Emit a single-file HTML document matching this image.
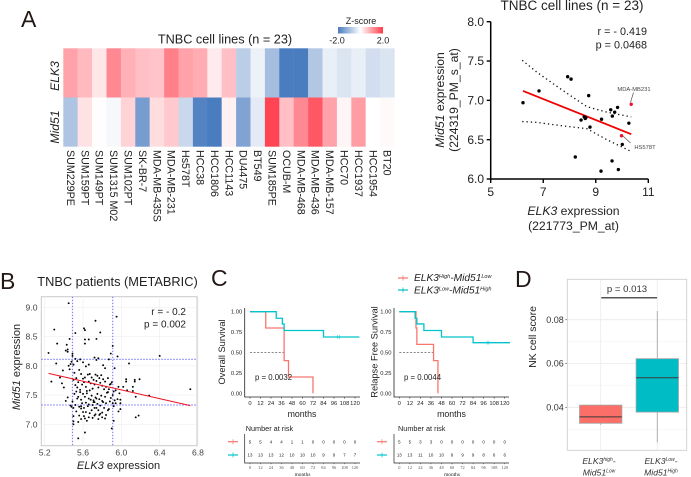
<!DOCTYPE html>
<html lang="en">
<head>
<meta charset="utf-8">
<title>ELK3 and Mid51 figure</title>
<style>
html,body{margin:0;padding:0;background:#fff;width:691px;height:477px;overflow:hidden}
svg{display:block;font-family:"Liberation Sans",sans-serif;filter:blur(0.3px)}
text{fill:#222}
.it{font-style:italic}
.letter{font-size:23px;fill:#231815}
</style>
</head>
<body>
<svg id="fig" width="691" height="477" viewBox="0 0 691 477" xmlns="http://www.w3.org/2000/svg">
  <text class="letter" x="21" y="27">A</text>
  <text class="letter" x="0" y="289">B</text>
  <text class="letter" x="211" y="286">C</text>
  <text class="letter" x="515" y="287">D</text>

  <!-- Heatmap -->
  <g id="heatmap"></g>
  <text x="225" y="43.500" font-size="12.700" text-anchor="middle">TNBC cell lines (n = 23)</text>
  <text class="it" transform="translate(59,76) rotate(-90)" font-size="12.2" text-anchor="middle">ELK3</text>
  <text class="it" transform="translate(59,127) rotate(-90)" font-size="12.2" text-anchor="middle">Mid51</text>
  <defs>
    <linearGradient id="zgrad" x1="0" x2="1" y1="0" y2="0">
      <stop offset="0" stop-color="#4a7cc0"/>
      <stop offset="0.5" stop-color="#ffffff"/>
      <stop offset="1" stop-color="#ff3b4a"/>
    </linearGradient>
  </defs>
  <text x="361" y="24" font-size="9" text-anchor="middle">Z-score</text>
  <rect x="338" y="27" width="45" height="6.5" fill="url(#zgrad)"/>
  <text x="337" y="43.500" font-size="9" text-anchor="middle">-2.0</text>
  <text x="383" y="43.500" font-size="9" text-anchor="middle">2.0</text>

  <!-- Scatter A -->
  <text x="572" y="10" font-size="13.500" text-anchor="middle">TNBC cell lines (n = 23)</text>
  <g id="scatterA"></g>
  <text x="647" y="35" font-size="10.800" text-anchor="end">r = - 0.419</text>
  <text x="647" y="48.500" font-size="10.800" text-anchor="end">p = 0.0468</text>
  <text x="634" y="91" font-size="5.800" text-anchor="middle" style="fill:#444">MDA-MB231</text>
  <text x="645" y="149" font-size="5.800" text-anchor="middle" style="fill:#444">HS578T</text>
  <line x1="633.500" y1="92.500" x2="630.500" y2="102.500" stroke="#555" stroke-width="0.700"/>
  <line x1="630.500" y1="143" x2="623" y2="136" stroke="#555" stroke-width="0.700"/>
  <text transform="translate(444,100) rotate(-90)" font-size="12.200" text-anchor="middle"><tspan class="it">Mid51</tspan> expression</text>
  <text transform="translate(458,100) rotate(-90)" font-size="12.200" text-anchor="middle">(224319_PM_s_at)</text>
  <text x="573.500" y="215" font-size="12.200" text-anchor="middle"><tspan class="it">ELK3</tspan> expression</text>
  <text x="573.500" y="230" font-size="12.200" text-anchor="middle">(221773_PM_at)</text>

  <!-- Scatter B -->
  <text x="117.500" y="286" font-size="12.800" text-anchor="middle">TNBC patients (METABRIC)</text>
  <g id="scatterB"></g>
  <text x="186" y="315" font-size="10" text-anchor="end">r = - 0.2</text>
  <text x="186" y="327.500" font-size="10" text-anchor="end">p = 0.002</text>
  <text transform="translate(20,367) rotate(-90)" font-size="11" text-anchor="middle"><tspan class="it">Mid51</tspan> expression</text>
  <text x="118.500" y="469" font-size="11" text-anchor="middle"><tspan class="it">ELK3</tspan> expression</text>

  <!-- KM legend -->
  <g>
    <line x1="398" x2="408" y1="278" y2="278" stroke="#f8766d" stroke-width="1.200"/>
    <line x1="403" x2="403" y1="275.500" y2="280.500" stroke="#f8766d" stroke-width="0.800"/>
    <line x1="398" x2="408" y1="290" y2="290" stroke="#00bfc4" stroke-width="1.200"/>
    <line x1="403" x2="403" y1="287.500" y2="292.500" stroke="#00bfc4" stroke-width="0.800"/>
    <text class="it" x="414" y="281" font-size="10.200">ELK3<tspan font-size="5.500" dy="-3">High</tspan><tspan dy="3">-Mid51</tspan><tspan font-size="5.500" dy="-3">Low</tspan></text>
    <text class="it" x="414" y="293.500" font-size="10.200">ELK3<tspan font-size="5.500" dy="-3">Low</tspan><tspan dy="3">-Mid51</tspan><tspan font-size="5.500" dy="-3">High</tspan></text>
  </g>
  <g id="kmLeft"></g>
  <g id="kmRight"></g>

  <!-- Box plot -->
  <g id="boxplot"></g>
  <text transform="translate(536,337) rotate(-90)" font-size="10.500" text-anchor="middle">NK cell score</text>
  <text x="627" y="292" font-size="9.600" text-anchor="middle" style="fill:#333">p = 0.013</text>
  <text class="it" x="599" y="464" font-size="8.600" text-anchor="middle" style="fill:#333">ELK3<tspan font-size="5" dy="-3">high</tspan><tspan dy="3">-</tspan></text>
  <text class="it" x="599" y="475.500" font-size="8.600" text-anchor="middle" style="fill:#333">Mid51<tspan font-size="5" dy="-3">Low</tspan></text>
  <text class="it" x="661" y="464" font-size="8.600" text-anchor="middle" style="fill:#333">ELK3<tspan font-size="5" dy="-3">Low</tspan><tspan dy="3">-</tspan></text>
  <text class="it" x="661" y="475.500" font-size="8.600" text-anchor="middle" style="fill:#333">Mid51<tspan font-size="5" dy="-3">High</tspan></text>
</svg>

<script>
// ---------- Heatmap data ----------
const cellLines = ["SUM229PE","SUM159PT","SUM149PT","SUM1315 M02","SUM102PT","SK-BR-7","MDA-MB-435S","MDA-MB-231","Hs578T","HCC38","HCC1806","HCC1143","DU4475","BT549","SUM185PE","OCUB-M","MDA-MB-468","MDA-MB-436","MDA-MB-157","HCC70","HCC1937","HCC1954","BT20"];
const elk3Z = [0.95,0.7,0.25,1.2,0.8,0.65,0.6,1.3,0.95,0.85,0.2,0.65,-0.75,-0.2,-1.0,-2,-2,-0.85,-0.25,-0.4,-0.25,-0.5,-0.4];
const mid51Z = [-0.9,0.3,0.02,-0.1,0.45,-1.5,0.35,0.55,-0.6,-1.9,-2,0.15,-1.4,-0.3,1.9,0.65,1.2,1.7,0.95,0.1,1.0,0,0.05];

// ---------- Cell line scatter data ----------
const lineElk3 = [6.23,6.84,7.93,8.06,8.73,9.57,9.83,9.72,9.63,10.26,9.22,8.44,8.56,8.62,8.60,8.78,10.01,8.22,9.62,9.86,9.20];
const lineMid51 = [6.97,7.12,7.30,7.27,7.06,6.88,6.91,6.85,6.80,6.71,6.76,6.75,6.79,6.78,6.77,6.66,6.44,6.28,6.23,6.12,6.10];
const highlightElk3 = [10.35,9.98];
const highlightMid51 = [6.95,6.55];
const lineFitX = [6.23,10.35];
const lineFitY = [7.12,6.57];
const ciX = [6.2,6.75,7.64,8.66,9.42,10.35];
const ciUpper = [7.51,7.36,7.15,6.92,6.85,6.79];
const ciLower = [6.73,6.72,6.68,6.64,6.50,6.35];
const lineXTicks = [5,7,9,11];
const lineYTicks = [6.0,6.5,7.0,7.5,8.0];

// ---------- Patient scatter data ----------
const patientElk3 = [5.45,5.30,5.24,5.33,5.95,5.73,5.61,5.62,5.52,5.78,5.46,5.62,5.66,5.74,5.62,5.43,5.44,5.42,5.44,5.49,
5.89,5.91,5.96,6.40,6.72,6.08,6.29,6.15,6.18,5.62,5.55,5.90,5.50,5.50,5.92,6.05,6.05,6.19,6.14,6.14,
6.12,6.12,6.15,6.02,6.06,5.98,5.97,5.99,5.99,5.99,5.91,5.32,5.27,5.36,5.38,5.40,5.39,5.42,5.45,5.47,
5.49,5.50,5.48,5.52,5.54,5.57,5.60,5.63,5.66,5.72,5.74,5.76,5.81,5.83,5.87,5.46,5.44,5.48,5.51,5.53,
5.56,5.58,5.60,5.62,5.65,5.67,5.69,5.71,5.73,5.75,5.77,5.79,5.81,5.83,5.86,5.88,5.90,5.93,5.50,5.52,
5.54,5.55,5.57,5.59,5.61,5.63,5.64,5.66,5.68,5.70,5.72,5.74,5.76,5.78,5.80,5.82,5.84,5.85,5.87,5.89,
5.92,5.94,5.96,5.51,5.53,5.55,5.57,5.58,5.60,5.62,5.64,5.66,5.67,5.69,5.71,5.73,5.75,5.77,5.79,5.81,
5.83,5.86,5.88,5.91,5.93,5.49,5.52,5.54,5.56,5.59,5.61,5.63,5.65,5.68,5.70,5.71,5.72,5.74,5.75,5.76,
5.78,5.80,5.82,5.84,5.87,5.89,5.92,5.94,5.97,5.53,5.56,5.58,5.61,5.63,5.66,5.69,5.72,5.74,5.77,5.80,
5.83,5.86,5.50,5.55,5.58,5.60,5.64,5.67,5.70,5.73,5.76,5.80,5.47,5.50,5.62,5.66,5.58,5.72,5.78,5.84];
const patientMid51 = [9.07,8.62,8.22,8.38,8.84,8.77,8.64,8.61,8.56,8.57,8.46,8.45,8.45,8.46,8.38,8.36,8.28,8.26,8.24,8.21,
8.21,8.34,8.16,8.17,7.60,8.04,7.49,7.12,7.15,6.86,6.76,6.93,7.05,7.00,7.06,7.77,7.73,7.77,7.76,7.73,
7.64,7.57,7.47,7.64,7.58,7.53,7.64,7.42,7.36,7.26,7.36,8.04,7.73,7.80,7.70,7.63,7.92,7.40,8.00,8.03,
8.17,8.02,8.07,8.12,8.08,8.11,8.06,7.99,8.02,8.14,8.10,8.13,8.01,7.96,8.11,7.94,7.46,7.30,7.88,7.79,
7.93,7.86,7.78,7.80,7.85,7.86,7.80,7.76,7.85,7.83,7.79,7.84,7.77,7.73,7.79,7.68,7.72,7.96,7.76,7.67,
7.63,7.72,7.59,7.68,7.72,7.64,7.57,7.73,7.70,7.61,7.68,7.74,7.63,7.71,7.66,7.60,7.64,7.54,7.60,7.69,
7.56,7.58,7.43,7.52,7.56,7.47,7.55,7.42,7.52,7.47,7.53,7.44,7.58,7.49,7.41,7.46,7.52,7.43,7.49,7.38,
7.47,7.55,7.39,7.50,7.41,7.39,7.33,7.44,7.30,7.36,7.28,7.37,7.31,7.42,7.33,7.38,7.28,7.44,7.35,7.24,
7.32,7.40,7.28,7.36,7.26,7.45,7.31,7.36,7.22,7.22,7.15,7.27,7.14,7.21,7.12,7.24,7.15,7.28,7.16,7.20,
7.10,7.24,7.14,7.04,7.09,7.21,7.06,7.19,7.11,7.17,7.09,7.12,7.32,7.28,7.10,7.34,7.31,7.38,7.18,7.16];
const patientFitX = [5.24,6.72];
const patientFitY = [7.87,7.32];
const patientCutX = [5.49,5.91];
const patientCutY = [7.33,8.11];
const patientXTicks = ["5.2","5.6","6.0","6.4","6.8"];
const patientYTicks = ["7.0","7.5","8.0","8.5","9.0"];

// ---------- Survival data ----------
const kmTicks = [0,12,24,36,48,60,72,84,96,108,120];
const kmYTicks = ["0.00","0.25","0.50","0.75","1.00"];
const osHighTime = [0,18,39,44,72];
const osHighSurv = [1,0.8,0.4,0.2,0];
const osLowTime = [0,30,37,39,84,125];
const osLowSurv = [1,0.92,0.85,0.77,0.69,0.69];
const osCensor = [100,102];
const osMedian = 39;
const osRiskHigh = [5,5,4,4,1,1,0,0,0,0,0];
const osRiskLow = [13,13,13,12,10,10,10,9,9,7,7];
const rfsHighTime = [0,19,20,39,44,44];
const rfsHighSurv = [1,0.8,0.6,0.4,0,0];
const rfsLowTime = [0,18,20,28,48,84,126];
const rfsLowSurv = [1,0.92,0.85,0.77,0.69,0.62,0.62];
const rfsCensor = [100,102];
const rfsMedian = 39;
const rfsRiskHigh = [5,5,3,3,0,0,0,0,0,0,0];
const rfsRiskLow = [13,13,11,10,10,9,9,9,8,6,6];

// ---------- Box plot data ----------
const boxGroups = ["high-low","low-high"];
const boxQ1 = [0.0327,0.0378];
const boxMedian = [0.0356,0.0535];
const boxQ3 = [0.0410,0.0622];
const boxWhiskerLow = [0.0320,0.0240];
const boxWhiskerHigh = [0.0410,0.0840];
const boxYTicks = ["0.04","0.06","0.08"];
const boxYMinor = [0.03,0.05,0.07];

// ---------- Rendering ----------
const NS = "http://www.w3.org/2000/svg";
function mk(parent, tag, attrs, txt){
  const e = document.createElementNS(NS, tag);
  for (const k in attrs) e.setAttribute(k, attrs[k]);
  if (txt !== undefined) e.textContent = txt;
  parent.appendChild(e);
  return e;
}
function linear(d0,d1,r0,r1){ return v => r0 + (v-d0)/(d1-d0)*(r1-r0); }
function mix(a,b,t){ return a.map((c,i)=>Math.round(c+(b[i]-c)*t)); }
function zColor(z){
  const w=[255,255,255], lo=[74,124,192], hi=[255,59,74];
  const c = z<0 ? mix(w,lo,Math.min(1,-z/2)) : mix(w,hi,Math.min(1,z/2));
  return "rgb("+c.join(",")+")";
}

// Heatmap
(function(){
  const g = document.getElementById("heatmap");
  const x0 = 63.3, cw = 14.4;
  const rowTop = [48.3, 97.5], rowH = 49.2;
  [elk3Z, mid51Z].forEach((row, r) => {
    row.forEach((z, i) => {
      const c = mk(g,"rect",{x:x0+i*cw,y:rowTop[r],width:cw+0.2,height:rowH,fill:zColor(z)});
      
      
    });
  });
  cellLines.forEach((n,i) => {
    const cx = x0+i*cw+cw/2-3.6;
    const t = mk(g,"text",{transform:"translate("+cx+",150) rotate(90)","font-size":10.7},n);
    
    
  });
})();

// Scatter A
(function(){
  const g = document.getElementById("scatterA");
  const X = linear(5,11,490.7,648.3), Y = linear(6,8,179,21.7);
  const ax = mk(g,"path",{d:"M"+X(5)+" "+Y(8)+"V"+Y(6)+"H"+X(11),fill:"none",stroke:"#000","stroke-width":1.5});
  
  
  lineXTicks.forEach(v => {
    const k = mk(g,"line",{x1:X(v),x2:X(v),y1:Y(6),y2:Y(6)+4,stroke:"#000","stroke-width":1.4});
    
    
    const t = mk(g,"text",{x:X(v),y:196,"font-size":12,"text-anchor":"middle"},v);
    
    
  });
  lineYTicks.forEach(v => {
    const k = mk(g,"line",{x1:X(5)-4,x2:X(5),y1:Y(v),y2:Y(v),stroke:"#000","stroke-width":1.4});
    
    
    const t = mk(g,"text",{x:484,y:Y(v)+4.2,"font-size":12,"text-anchor":"end"},v.toFixed(1));
    
    
  });
  [ciUpper,ciLower].forEach(arr => {
    const p = mk(g,"polyline",{points:ciX.map((x,i)=>X(x)+","+Y(arr[i])).join(" "),fill:"none",stroke:"#111","stroke-width":1.3,"stroke-dasharray":"1.3 3"});
    
    
  });
  const f = mk(g,"line",{x1:X(lineFitX[0]),y1:Y(lineFitY[0]),x2:X(lineFitX[1]),y2:Y(lineFitY[1]),stroke:"#f00000","stroke-width":1.8});
  
  
  lineElk3.forEach((x,i) => {
    const c = mk(g,"circle",{cx:X(x),cy:Y(lineMid51[i]),r:1.7,fill:"#000"});
    
    
  });
  highlightElk3.forEach((x,i) => {
    const c = mk(g,"circle",{cx:X(x),cy:Y(highlightMid51[i]),r:1.7,fill:"#f01030"});
    
    
  });
})();

// Scatter B
(function(){
  const g = document.getElementById("scatterB");
  const X = linear(5.2,6.8,44.7,198), Y = linear(7,9,424.3,307.3);
  const L=41.3,R=197,T=296.7,B=445.7;
  const bg = mk(g,"rect",{x:L,y:T,width:R-L,height:B-T,fill:"#fff",stroke:"#c9c9c9","stroke-width":1});
  
  
  patientXTicks.forEach(s => {
    const v = +s;
    const l = mk(g,"line",{x1:X(v),x2:X(v),y1:T,y2:B,stroke:"#efefef","stroke-width":0.7});
    
    
    const t = mk(g,"text",{x:X(v),y:455.5,"font-size":8.6,"text-anchor":"middle",style:"fill:#444"},s);
    
    
  });
  patientYTicks.forEach(s => {
    const v = +s;
    const l = mk(g,"line",{x1:L,x2:R,y1:Y(v),y2:Y(v),stroke:"#efefef","stroke-width":0.7});
    
    
    const t = mk(g,"text",{x:37.5,y:Y(v)+3,"font-size":8.6,"text-anchor":"end",style:"fill:#444"},s);
    
    
  });
  patientCutX.forEach(v => {
    const l = mk(g,"line",{x1:X(v),x2:X(v),y1:T,y2:B,stroke:"#8080ff","stroke-width":1.2,"stroke-dasharray":"1.4 1.6"});
    
    
  });
  patientCutY.forEach(v => {
    const l = mk(g,"line",{x1:L,x2:R,y1:Y(v),y2:Y(v),stroke:"#8080ff","stroke-width":1.2,"stroke-dasharray":"1.4 1.6"});
    
    
  });
  patientElk3.forEach((x,i) => {
    const c = mk(g,"circle",{cx:X(x),cy:Y(patientMid51[i]),r:0.95,fill:"#000"});
    
    
  });
  const f = mk(g,"line",{x1:X(patientFitX[0]),y1:Y(patientFitY[0]),x2:X(patientFitX[1]),y2:Y(patientFitY[1]),stroke:"#f01020","stroke-width":1});
  
  
})();

// Kaplan-Meier
function stepPath(X,Y,t,s){
  let d = "M"+X(t[0])+" "+Y(s[0]);
  for (let i=1;i<t.length;i++) d += "H"+X(t[i])+"V"+Y(s[i]);
  return d;
}
function drawKM(id, c){
  const g = document.getElementById(id);
  const X = linear(0,120,c.x0,c.x120), Y = linear(0,1,393.3,311.7);
  const ax = mk(g,"path",{d:"M"+c.axisX+" 308V397H"+c.axisEnd,fill:"none",stroke:"#222","stroke-width":0.8});
  
  
  kmTicks.forEach(v => {
    const k = mk(g,"line",{x1:X(v),x2:X(v),y1:397,y2:398.5,stroke:"#222","stroke-width":0.6});
    
    
    const t = mk(g,"text",{x:X(v),y:405,"font-size":5.8,"text-anchor":"middle"},v);
    
    
  });
  kmYTicks.forEach(s => {
    const v = +s;
    const t = mk(g,"text",{x:c.axisX-2.5,y:Y(v)+2,"font-size":5.8,"text-anchor":"end"},s);
    
    
  });
  const m = mk(g,"line",{x1:X(0),x2:X(c.median),y1:Y(0.5),y2:Y(0.5),stroke:"#111","stroke-width":0.6,"stroke-dasharray":"2 1.6"});
  
  
  const hi = mk(g,"path",{d:stepPath(X,Y,c.hiT,c.hiS),fill:"none",stroke:"#f8766d","stroke-width":1.3});
  
  
  const lo = mk(g,"path",{d:stepPath(X,Y,c.loT,c.loS),fill:"none",stroke:"#00c4cc","stroke-width":1.3});
  
  
  const endS = c.loS[c.loS.length-1];
  c.censor.forEach(v => {
    const k = mk(g,"line",{x1:X(v),x2:X(v),y1:Y(endS)-1.8,y2:Y(endS)+1.8,stroke:"#00c4cc","stroke-width":0.6});
    
    
  });
  const p = mk(g,"text",{x:c.pX,y:380,"font-size":7.8},c.pText);
  
  
  const yt = mk(g,"text",{transform:"translate("+c.yTitleX+",352) rotate(-90)","font-size":c.yTitleSize,"text-anchor":"middle"},c.yTitle);
  
  
  const xt = mk(g,"text",{x:X(60)-0.5,y:417,"font-size":8.8,"text-anchor":"middle"},"months");
  
  
  // risk table
  const rt = mk(g,"text",{x:c.axisX+c.riskTitleDx,y:431,"font-size":7.3},"Number at risk");
  
  
  const ra = mk(g,"path",{d:"M"+c.axisX+" 434V463H"+c.axisEnd,fill:"none",stroke:"#222","stroke-width":0.7});
  
  
  [[c.riskHi,441.7,"#f8766d"],[c.riskLo,455,"#00c4cc"]].forEach(row => {
    const kl = mk(g,"line",{x1:c.keyX,x2:c.keyX+10,y1:row[1],y2:row[1],stroke:row[2],"stroke-width":1.2});
    
    
    const kt = mk(g,"line",{x1:c.keyX+5,x2:c.keyX+5,y1:row[1]-2.5,y2:row[1]+2.5,stroke:row[2],"stroke-width":0.7});
    
    
    row[0].forEach((n,i) => {
      const t = mk(g,"text",{x:X(kmTicks[i]),y:row[1]+1.6,"font-size":4.4,"text-anchor":"middle"},n);
      
      
    });
  });
  kmTicks.forEach(v => {
    const k = mk(g,"line",{x1:X(v),x2:X(v),y1:463,y2:464.2,stroke:"#333","stroke-width":0.5});
    
    
    const t = mk(g,"text",{x:X(v),y:469,"font-size":4.4,"text-anchor":"middle",style:"fill:#555;font-family:'Liberation Serif',serif"},v);
    
    
  });
  const rx = mk(g,"text",{x:X(60),y:476,"font-size":5.4,"text-anchor":"middle",style:"font-family:'Liberation Serif',serif"},"months");
  
  
}
drawKM("kmLeft",{x0:250,x120:355,axisX:244.7,axisEnd:360,hiT:osHighTime,hiS:osHighSurv,loT:osLowTime,loS:osLowSurv,censor:osCensor,median:osMedian,riskHi:osRiskHigh,riskLo:osRiskLow,pX:255,pText:"p = 0.0032",yTitle:"Overall Survival",yTitleX:225,yTitleSize:9.3,keyX:228,riskTitleDx:1});
drawKM("kmRight",{x0:399.3,x120:504.7,axisX:394,axisEnd:509,hiT:rfsHighTime,hiS:rfsHighSurv,loT:rfsLowTime,loS:rfsLowSurv,censor:rfsCensor,median:rfsMedian,riskHi:rfsRiskHigh,riskLo:rfsRiskLow,pX:404,pText:"p = 0.0044",yTitle:"Relapse Free Survival",yTitleX:377.5,yTitleSize:9.3,keyX:377,riskTitleDx:4});

// Box plot
(function(){
  const g = document.getElementById("boxplot");
  const Y = linear(0.04,0.08,407.3,319.7);
  const L=567.3,R=686.7,T=279.3,B=450.3;
  const cats = [600.7,657.3];
  boxYMinor.forEach(v => {
    const l = mk(g,"line",{x1:L,x2:R,y1:Y(v),y2:Y(v),stroke:"#f3f3f3","stroke-width":0.6});
    
    
  });
  boxYTicks.forEach(s => {
    const v = +s;
    const l = mk(g,"line",{x1:L,x2:R,y1:Y(v),y2:Y(v),stroke:"#ebebeb","stroke-width":0.8});
    
    
    const k = mk(g,"line",{x1:L-2,x2:L,y1:Y(v),y2:Y(v),stroke:"#555","stroke-width":0.7});
    
    
    const t = mk(g,"text",{x:L-3.5,y:Y(v)+3.2,"font-size":9,"text-anchor":"end",style:"fill:#333"},s);
    
    
  });
  cats.forEach(x => {
    const l = mk(g,"line",{x1:x,x2:x,y1:T,y2:B,stroke:"#ebebeb","stroke-width":0.8});
    
    
  });
  const fr = mk(g,"rect",{x:L,y:T,width:R-L,height:B-T,fill:"none",stroke:"#cfcfcf","stroke-width":0.9});
  
  
  const fills = ["#fb6f68","#00bcc4"];
  const hw = 21.2;
  boxGroups.forEach((grp,i) => {
    const cx = cats[i];
    const w = mk(g,"line",{x1:cx,x2:cx,y1:Y(boxWhiskerHigh[i]),y2:Y(boxWhiskerLow[i]),stroke:"#a8a8a8","stroke-width":0.9});
    
    
    const b = mk(g,"rect",{x:cx-hw,y:Y(boxQ3[i]),width:2*hw,height:Y(boxQ1[i])-Y(boxQ3[i]),fill:fills[i],stroke:"#a5a5a5","stroke-width":0.8});
    
    
    const m = mk(g,"line",{x1:cx-hw,x2:cx+hw,y1:Y(boxMedian[i]),y2:Y(boxMedian[i]),stroke:"#3a3a3a","stroke-width":1});
    
    
  });
  const sig = mk(g,"line",{x1:601.3,x2:657,y1:297.7,y2:297.7,stroke:"#555","stroke-width":1.5});
  
  
})();
</script>
</body>
</html>
